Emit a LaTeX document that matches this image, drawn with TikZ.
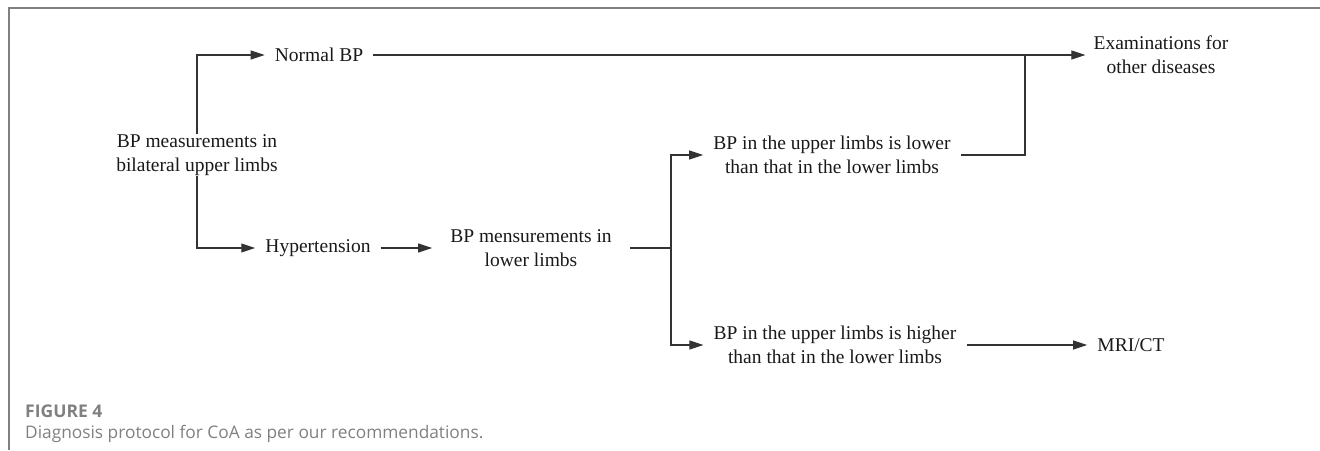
\documentclass[tikz,border=0pt]{standalone}
\usepackage{fontspec}
\setmainfont{Liberation Serif}
\newfontfamily\capfont{Open Sans}
\usetikzlibrary{arrows.meta}

\tikzset{
    box/.style={inner xsep=10pt, inner ysep=0pt, align=center,
        font=\fontsize{19.5}{24}\selectfont, text=black!90},
    link/.style={draw=black!80, line width=1.1pt},
    arr/.style={link, -{Triangle[length=14pt,width=9pt]}},
    captext/.style={anchor=west, inner sep=0pt, text=black!50}
}

\begin{document}
\begin{tikzpicture}[x=1pt,y=-1pt]
    \useasboundingbox (0,0) rectangle (1320,450);
    \draw[black!50, line width=1.5pt] (9,450) -- (9,8) -- (1320,8);

    % boxes
    \node[box] (src) at (197,155) {BP measurements in\\bilateral upper limbs};
    \node[box] (normal) at (319,55) {Normal BP};
    \node[box] (hyper) at (318,248) {Hypertension};
    \node[box, inner xsep=18pt] (lower) at (531,248) {BP mensurements in\\lower limbs};
    \node[box] (up) at (832,155) {BP in the upper limbs is lower\\than that in the lower limbs};
    \node[box] (down) at (835,345) {BP in the upper limbs is higher\\than that in the lower limbs};
    \node[box, inner xsep=8pt] (exam) at (1161,55) {Examinations for\\other diseases};
    \node[box] (mri) at (1131,345) {MRI/CT};

    \coordinate (fork) at (671,248);
    \coordinate (join) at (1025,55);

    % connectors
    \draw[arr] (src.north) |- (normal.west);
    \draw[arr] (src.south) |- (hyper.west);
    \draw[arr] (hyper.east) -- (lower.west);
    \draw[link] (lower.east) -- (fork);
    \draw[arr] (fork) |- (up.west);
    \draw[arr] (fork) |- (down.west);
    \draw[arr] (normal.east) -- (exam.west);
    \draw[link] (up.east) -| (join);
    \draw[arr] (down.east) -- (mri.west);

    % caption
    \node[captext, font=\capfont\bfseries\fontsize{17.5}{20}\selectfont] (fig) at (25,411) {FIGURE 4};
    \node[captext, font=\capfont\fontsize{17.3}{20}\selectfont] (title) at (25,434) {Diagnosis protocol for CoA as per our recommendations.};
\end{tikzpicture}
\end{document}
